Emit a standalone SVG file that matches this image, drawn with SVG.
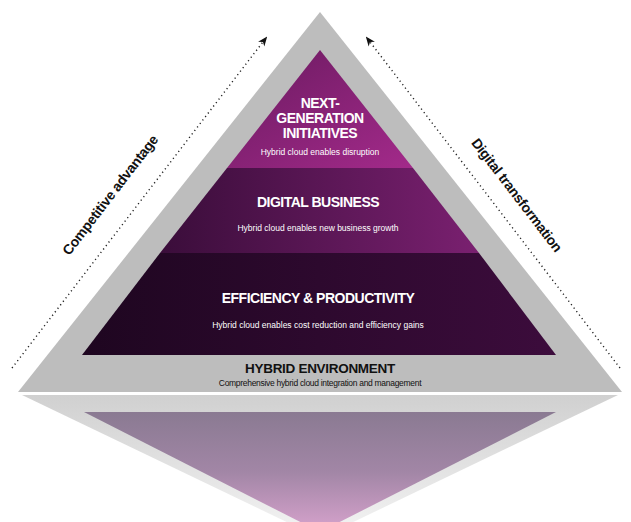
<svg xmlns="http://www.w3.org/2000/svg" width="631" height="522" viewBox="0 0 631 522">
<defs>
<style>
.t{font-family:"Liberation Sans",Arial,sans-serif;fill:#fff;text-anchor:middle}
.h{font-weight:bold;font-size:14px;letter-spacing:-0.5px}
.s{font-size:8.5px}
.lab{font-family:"Liberation Sans",Arial,sans-serif;font-size:14px;fill:#111;text-anchor:middle;letter-spacing:-0.3px}
.dot{stroke:#222;stroke-width:1.4;stroke-dasharray:1.2 3.2;fill:none}
</style>
<linearGradient id="g1" x1="0" y1="0" x2="1" y2="1"><stop offset="0" stop-color="#6a1a60"/><stop offset="1" stop-color="#a32a8a"/></linearGradient>
<linearGradient id="g2" x1="0" y1="0" x2="1" y2="0"><stop offset="0" stop-color="#3a0d3a"/><stop offset="1" stop-color="#7a2070"/></linearGradient>
<linearGradient id="g3" x1="0" y1="0" x2="1" y2="0"><stop offset="0" stop-color="#1e0620"/><stop offset="1" stop-color="#3c0c3c"/></linearGradient>
<linearGradient id="rg" x1="0" y1="0" x2="0" y2="1"><stop offset="0" stop-color="#8a7a92"/><stop offset="0.5" stop-color="#a286a6"/><stop offset="1" stop-color="#d7a3cd"/></linearGradient>
<linearGradient id="rgg" x1="0" y1="0" x2="0" y2="1"><stop offset="0" stop-color="#d0d0d0"/><stop offset="1" stop-color="#f4f4f4"/></linearGradient>
<marker id="ah" viewBox="0 0 10 10" refX="8" refY="5" markerWidth="7" markerHeight="7" orient="auto"><path d="M0,1 L10,5 L0,9 L3,5 z" fill="#111"/></marker>
</defs>
<rect width="631" height="522" fill="#fff"/>
<g id="reflection">
<polygon points="22,395 618,395 320,538" fill="url(#rgg)"/>
<polygon points="84,412 556,412 320,532" fill="url(#rg)"/>
<line x1="200" y1="404" x2="440" y2="404" stroke="#d2d2d2" stroke-width="2"/>
</g>
<g id="outer">
<polygon points="320,12 622,392 18,392" fill="#bdbdbd"/>
<text class="lab" x="320" y="373" style="font-weight:bold;font-size:13.5px">HYBRID ENVIRONMENT</text>
<text class="lab" x="320" y="386" style="font-size:8.5px">Comprehensive hybrid cloud integration and management</text>
</g>
<g id="layer3">
<polygon points="160,253 479,253 556,355 82,355" fill="url(#g3)"/>
<text class="t h" x="318" y="303">EFFICIENCY &amp; PRODUCTIVITY</text>
<text class="t s" x="318" y="328">Hybrid cloud enables cost reduction and efficiency gains</text>
</g>
<g id="layer2">
<polygon points="227,168 413,168 479,253 160,253" fill="url(#g2)"/>
<text class="t h" x="318" y="207">DIGITAL BUSINESS</text>
<text class="t s" x="318" y="231">Hybrid cloud enables new business growth</text>
</g>
<g id="layer1">
<polygon points="320,50 413,168 227,168" fill="url(#g1)"/>
<text class="t h" x="320" y="108">NEXT-</text>
<text class="t h" x="320" y="123">GENERATION</text>
<text class="t h" x="320" y="138">INITIATIVES</text>
<text class="t s" x="320" y="155">Hybrid cloud enables disruption</text>
</g>
<g id="connectors">
<line class="dot" x1="12" y1="368" x2="266" y2="38" marker-end="url(#ah)"/>
<line class="dot" x1="620" y1="368" x2="367" y2="38" marker-end="url(#ah)"/>
</g>
<g id="labels">
<text class="lab" transform="translate(114,198) rotate(-52.5)" style="font-weight:bold">Competitive advantage</text>
<text class="lab" transform="translate(513,198) rotate(52.5)" style="font-weight:bold">Digital transformation</text>
</g>
</svg>
